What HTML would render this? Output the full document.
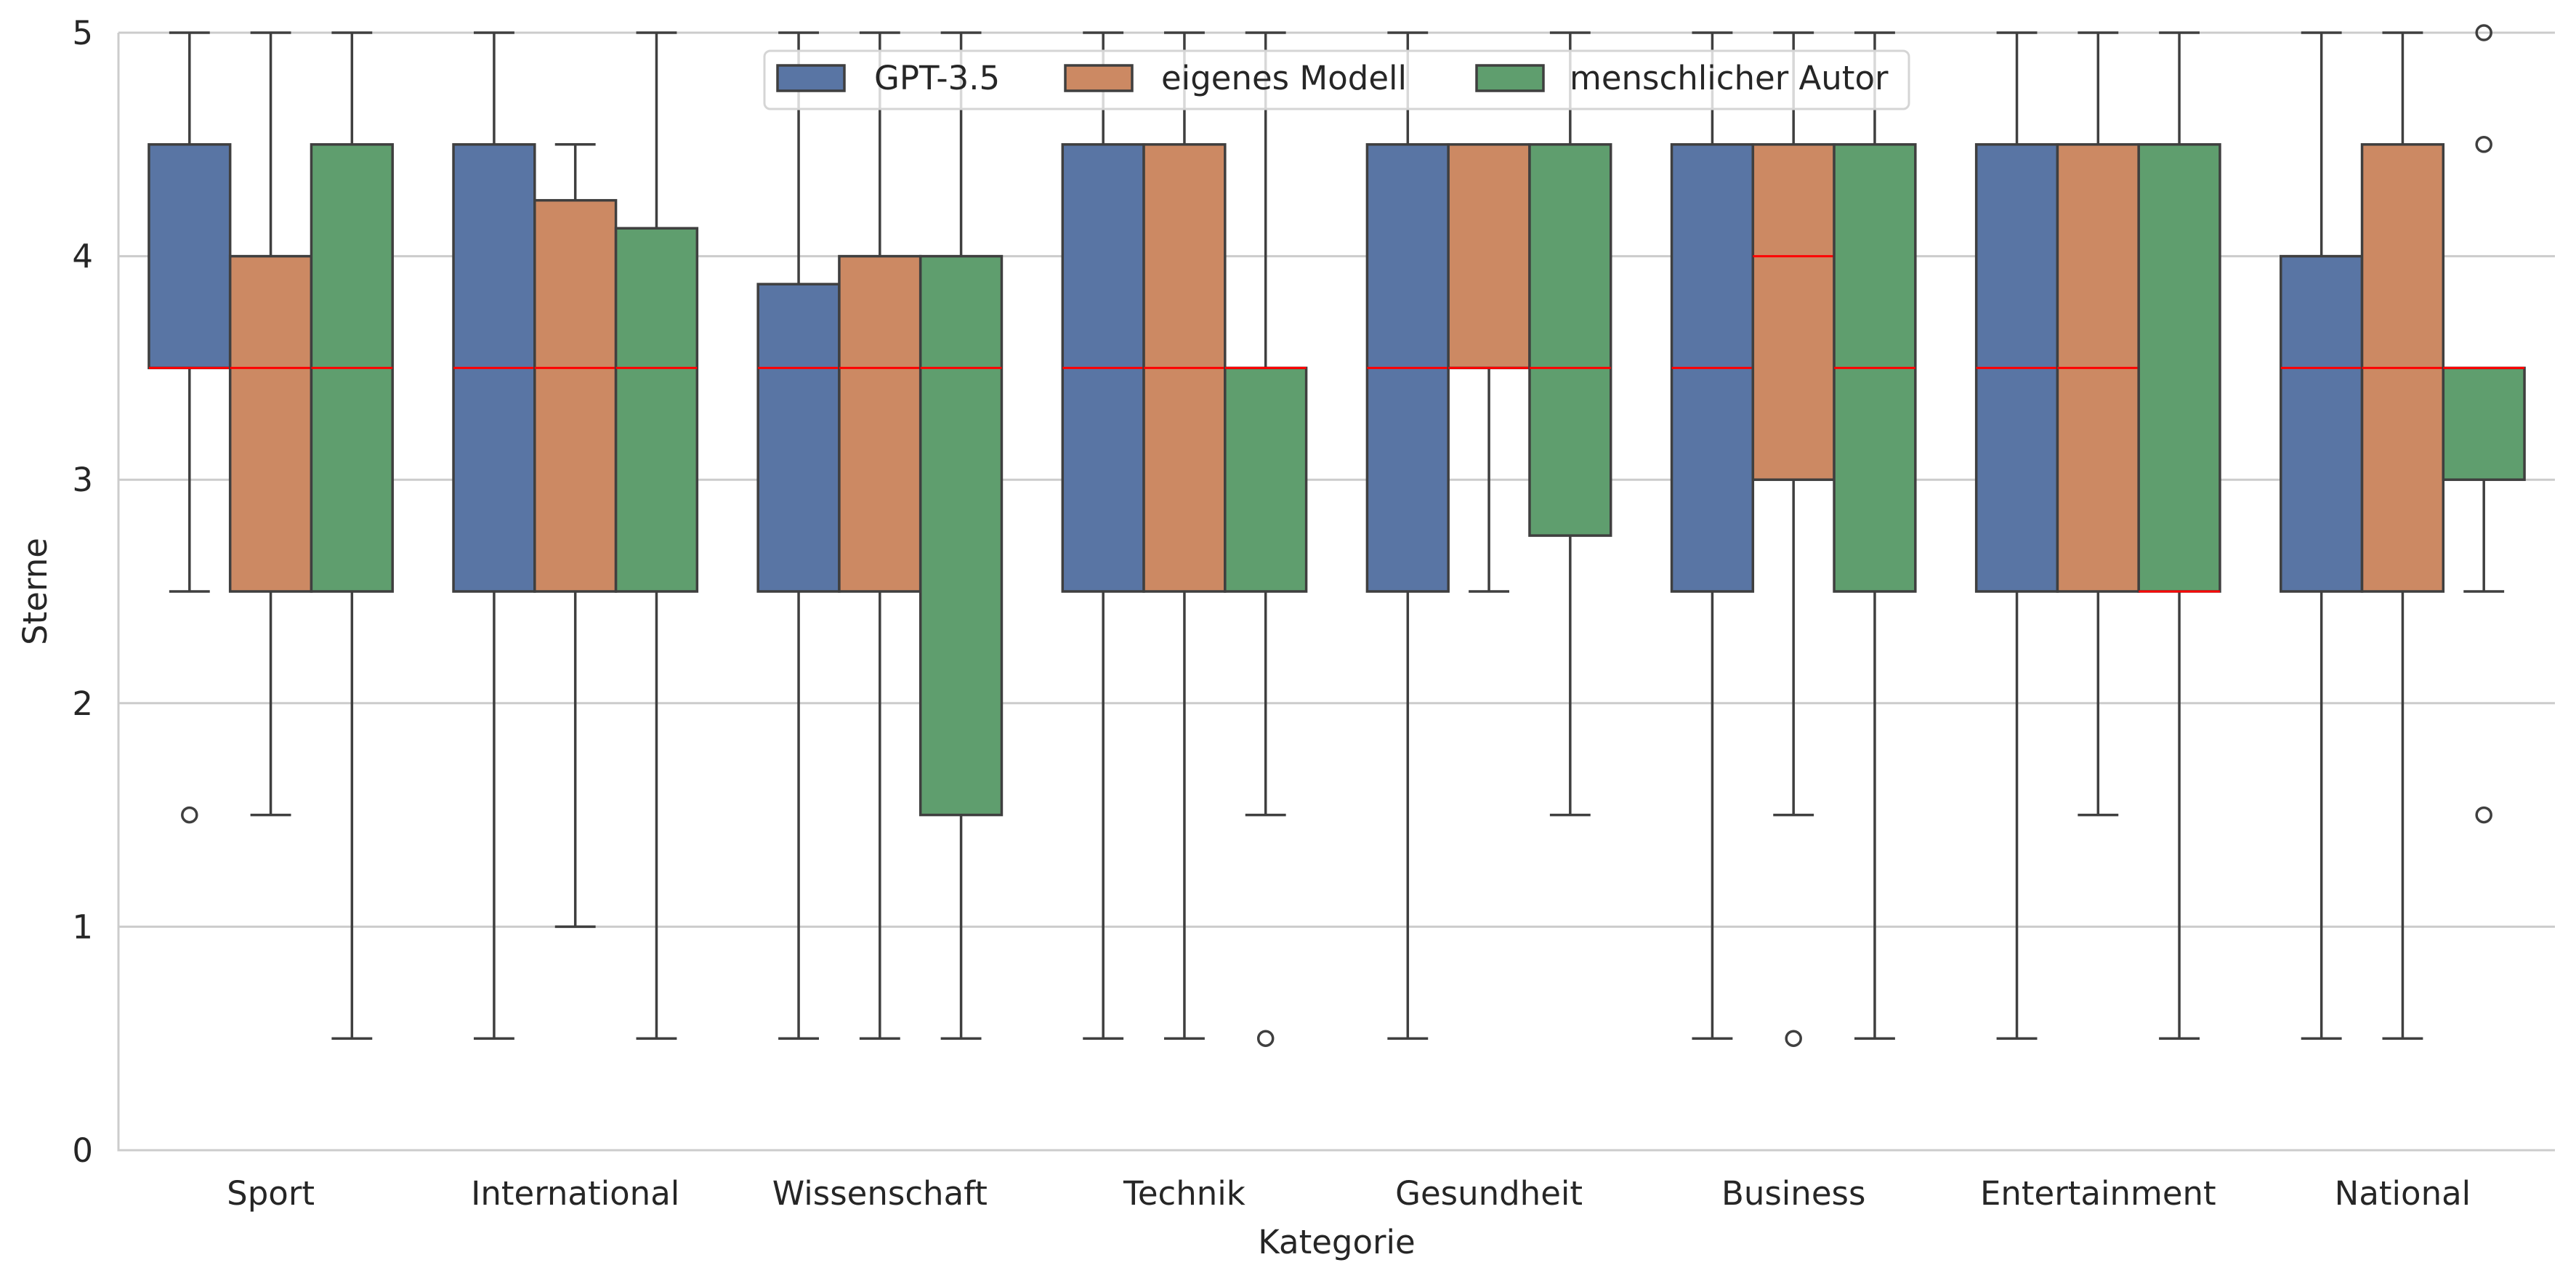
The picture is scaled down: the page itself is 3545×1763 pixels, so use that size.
<!DOCTYPE html>
<html><head><meta charset="utf-8"><style>
html,body{margin:0;padding:0;background:#fff;}
svg{display:block;font-family:"DejaVu Sans","Liberation Sans",sans-serif;}
</style></head><body>
<svg id="chart" width="3545" height="1763" viewBox="0 0 3545 1763" xmlns="http://www.w3.org/2000/svg">
<g id="grid"></g>
<g id="boxes"></g>
<g id="axes"></g>
<g id="legend"></g>
</svg>
<script>
const categories = ["Sport","International","Wissenschaft","Technik","Gesundheit","Business","Entertainment","National"];
const seriesNames = ["GPT-3.5","eigenes Modell","menschlicher Autor"];
const seriesColors = ["#5975a4","#cc8963","#5f9e6e"];
const yTicks = [0,1,2,3,4,5];
// [whiskerLow, q1, median, q3, whiskerHigh] per category
const gptStats = [[2.5,3.5,3.5,4.5,5],[0.5,2.5,3.5,4.5,5],[0.5,2.5,3.5,3.875,5],[0.5,2.5,3.5,4.5,5],[0.5,2.5,3.5,4.5,5],[0.5,2.5,3.5,4.5,5],[0.5,2.5,3.5,4.5,5],[0.5,2.5,3.5,4,5]];
const eigenStats = [[1.5,2.5,3.5,4,5],[1,2.5,3.5,4.25,4.5],[0.5,2.5,3.5,4,5],[0.5,2.5,3.5,4.5,5],[2.5,3.5,3.5,4.5,4.5],[1.5,3,4,4.5,5],[1.5,2.5,3.5,4.5,5],[0.5,2.5,3.5,4.5,5]];
const menschStats = [[0.5,2.5,3.5,4.5,5],[0.5,2.5,3.5,4.125,5],[0.5,1.5,3.5,4,5],[1.5,2.5,3.5,3.5,5],[1.5,2.75,3.5,4.5,5],[0.5,2.5,3.5,4.5,5],[0.5,2.5,2.5,4.5,5],[2.5,3,3.5,3.5,3.5]];
const gptOutliers = [[1.5],[],[],[],[],[],[],[]];
const eigenOutliers = [[],[],[],[],[],[0.5],[],[]];
const menschOutliers = [[],[],[],[0.5],[],[],[],[5,4.5,1.5]];

const NS="http://www.w3.org/2000/svg";
const L=163,R=3516,T=45,B=1583;
const y=v=>B-(v/5)*(B-T);
const band=(R-L)/categories.length;
const xc=i=>L+band*(i+0.5);
const bw=band*0.8/3;
function mk(tag,attrs,parent){const e=document.createElementNS(NS,tag);for(const k in attrs)e.setAttribute(k,attrs[k]);parent.appendChild(e);return e;}
const grid=document.getElementById('grid'),boxes=document.getElementById('boxes'),axes=document.getElementById('axes'),legend=document.getElementById('legend');
yTicks.forEach(t=>{
  const g=mk('line',{x1:L,x2:R,y1:y(t),y2:y(t),stroke:'#cccccc','stroke-width':3},grid);
  
  
  const tx=mk('text',{x:128,y:y(t)+16,'text-anchor':'end','font-size':45,fill:'#262626'},axes);
  tx.textContent=t;
  
  
});
const allStats=[gptStats,eigenStats,menschStats];
const allOut=[gptOutliers,eigenOutliers,menschOutliers];
const edge='#3f3f3f';
categories.forEach((c,i)=>{
  allStats.forEach((st,s)=>{
    const [wl,q1,md,q3,wh]=st[i];
    const cx=xc(i)+(s-1)*bw;
    const g=mk('g',{},boxes);
    
    
    if(wh>q3){
      mk('line',{x1:cx,x2:cx,y1:y(q3),y2:y(wh),stroke:edge,'stroke-width':3.5},g);
      mk('line',{x1:cx-bw/4,x2:cx+bw/4,y1:y(wh),y2:y(wh),stroke:edge,'stroke-width':3.5},g);
    }
    if(wl<q1){
      mk('line',{x1:cx,x2:cx,y1:y(q1),y2:y(wl),stroke:edge,'stroke-width':3.5},g);
      mk('line',{x1:cx-bw/4,x2:cx+bw/4,y1:y(wl),y2:y(wl),stroke:edge,'stroke-width':3.5},g);
    }
    mk('rect',{x:cx-bw/2,y:y(q3),width:bw,height:Math.max(0,y(q1)-y(q3)),fill:seriesColors[s],stroke:edge,'stroke-width':3.5},g);
    mk('line',{x1:cx-bw/2,x2:cx+bw/2,y1:y(md),y2:y(md),stroke:'#ff0000','stroke-width':3},g);
    allOut[s][i].forEach(o=>{
      const ci=mk('circle',{cx:cx,cy:y(o),r:10,fill:'none',stroke:edge,'stroke-width':3.5},g);
      
      
    });
  });
  const tx=mk('text',{x:xc(i),y:1658,'text-anchor':'middle','font-size':45,fill:'#262626'},axes);
  tx.textContent=c;
  
  
});
const ls=mk('line',{x1:L,x2:L,y1:T,y2:B+1.5,stroke:'#cccccc','stroke-width':3},axes);


const bs=mk('line',{x1:L-1.5,x2:R,y1:B,y2:B,stroke:'#cccccc','stroke-width':3},axes);


const xl=mk('text',{x:(L+R)/2,y:1725,'text-anchor':'middle','font-size':45,fill:'#262626'},axes);
xl.textContent='Kategorie';


const yl=mk('text',{x:0,y:0,'text-anchor':'middle','font-size':45,fill:'#262626',transform:'translate(64,'+((T+B)/2)+') rotate(-90)'},axes);
yl.textContent='Sterne';


const lf=mk('rect',{x:1052,y:70,width:1575,height:80,rx:8,fill:'#ffffff','fill-opacity':0.8,stroke:'#d5d5d5','stroke-width':3},legend);


const px=[1070,1466,2032],tx=[1203,1598,2160];
seriesNames.forEach((n,s)=>{
  const g=mk('g',{},legend);
  
  
  mk('rect',{x:px[s],y:90,width:92,height:35,fill:seriesColors[s],stroke:edge,'stroke-width':3.5},g);
  const t=mk('text',{x:tx[s],y:123,'font-size':45,fill:'#262626'},g);
  t.textContent=n;
});
</script>
</body></html>
